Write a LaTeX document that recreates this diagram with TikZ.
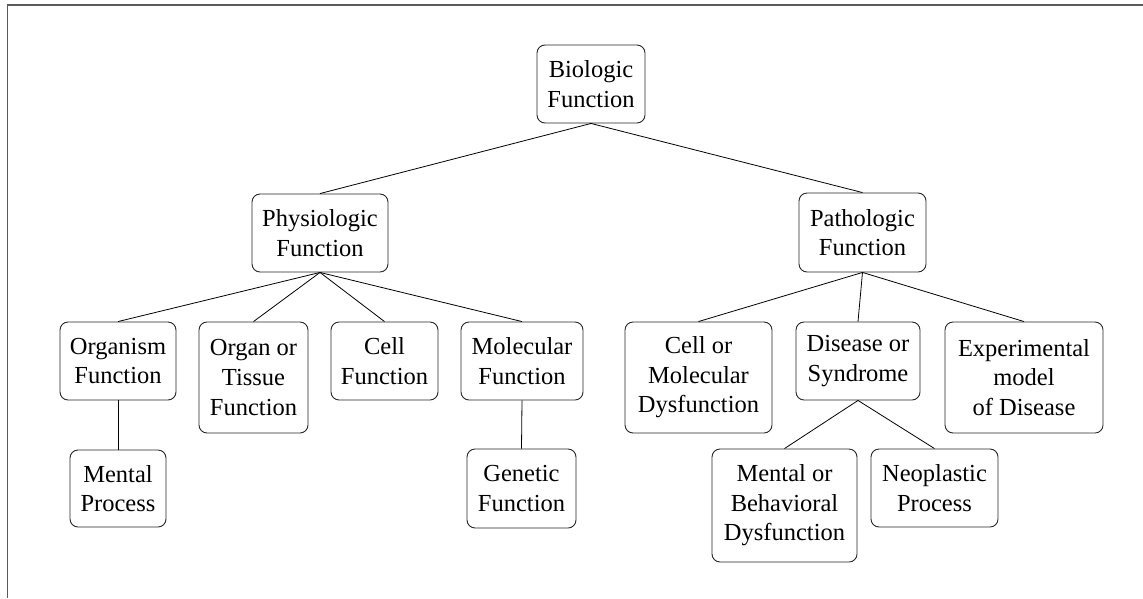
\documentclass[tikz,border=0pt]{standalone}
\usepackage{fontspec}
\setmainfont{Liberation Serif}
\newfontfamily\boxfont{Liberation Serif}
\begin{document}
\begin{tikzpicture}[x=1pt,y=-1pt,
  box/.style={draw=black!85, line width=0.9pt, rounded corners=8pt, align=center, inner sep=0pt,
    font=\boxfont\fontsize{24.5}{29.5}\selectfont},
  link/.style={draw=black, line width=0.8pt},
  frame/.style={draw=black!65, line width=1.8pt}]
\useasboundingbox (0,0) rectangle (1143,598);
\draw[frame] (7.5,598) -- (7.5,5) -- (1143,5);
\node[box, minimum width=108pt, minimum height=78pt] (bio) at (591,84) {Biologic\\Function};
\node[box, minimum width=136pt, minimum height=78pt] (phys) at (320,233) {Physiologic\\Function};
\node[box, minimum width=127pt, minimum height=79pt] (path) at (862.5,232.5) {Pathologic\\Function};
\node[box, minimum width=116pt, minimum height=78pt] (org) at (118,361) {Organism\\Function};
\node[box, minimum width=109pt, minimum height=111pt] (tis) at (253.5,377.5) {Organ or\\Tissue\\Function};
\node[box, minimum width=107pt, minimum height=78pt] (cell) at (384.5,361) {Cell\\Function};
\node[box, minimum width=122pt, minimum height=78pt] (mol) at (522,361) {Molecular\\Function};
\node[box, minimum width=147pt, minimum height=111pt] (cmd) at (698.5,377.5) {Cell or\\Molecular\\Dysfunction};
\node[box, minimum width=124pt, minimum height=78pt] (dis) at (858,361) {Disease or\\Syndrome};
\node[box, minimum width=158pt, minimum height=111pt] (exp) at (1024,377.5) {Experimental\\model\\of Disease};
\node[box, minimum width=96pt, minimum height=77pt] (men) at (118,488.5) {Mental\\Process};
\node[box, minimum width=109pt, minimum height=79pt] (gen) at (521.5,488.5) {Genetic\\Function};
\node[box, minimum width=145pt, minimum height=113pt] (mbd) at (784.5,505.5) {Mental or\\Behavioral\\Dysfunction};
\node[box, minimum width=127pt, minimum height=78pt] (neo) at (934.5,488) {Neoplastic\\Process};
\draw[link] (bio.south) -- (phys.north);
\draw[link] (bio.south) -- (path.north);
\draw[link] (phys.south) -- (org.north);
\draw[link] (phys.south) -- (tis.north);
\draw[link] (phys.south) -- (cell.north);
\draw[link] (phys.south) -- (mol.north);
\draw[link] (org.south) -- (men.north);
\draw[link] (mol.south) -- (gen.north);
\draw[link] (path.south) -- (cmd.north);
\draw[link] (path.south) -- (dis.north);
\draw[link] (path.south) -- (exp.north);
\draw[link] (dis.south) -- (mbd.north);
\draw[link] (dis.south) -- (neo.north);
\end{tikzpicture}
\end{document}
